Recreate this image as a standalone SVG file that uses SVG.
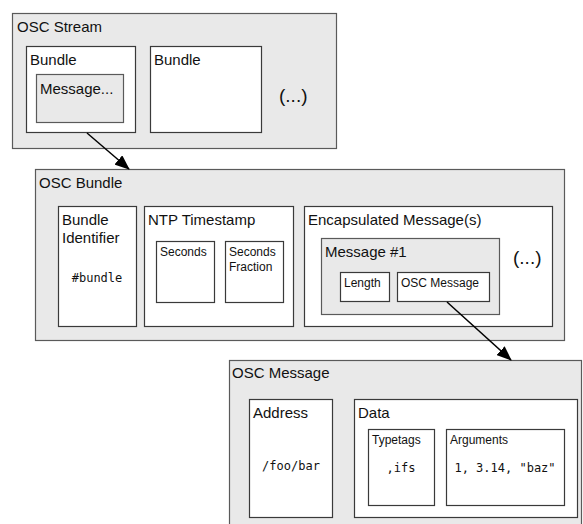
<svg xmlns="http://www.w3.org/2000/svg" width="583" height="524" viewBox="0 0 583 524">
<defs>
<style>
.g{fill:#e9e9e9;stroke:#5a5a5a;stroke-width:1.2}
.w{fill:#ffffff;stroke:#3a3a3a;stroke-width:1.2}
.t{font-family:"Liberation Sans",Arial,sans-serif;font-size:15px;fill:#111}
.s{font-family:"Liberation Sans",Arial,sans-serif;font-size:12px;fill:#111}
.e{font-family:"Liberation Sans",Arial,sans-serif;font-size:19px;fill:#111}
.m{font-family:"DejaVu Sans Mono",monospace;font-size:12px;fill:#111;text-anchor:middle}
.c{stroke:#000;stroke-width:1.5;fill:none}
</style>
<marker id="ah2" viewBox="0 0 15 12" refX="14" refY="6" markerWidth="15" markerHeight="12" orient="auto" markerUnits="userSpaceOnUse">
<path d="M0,0 L15,6 L0,12 z" fill="#000"/>
</marker>
</defs>

<g id="osc-stream">
<rect class="g" x="12.5" y="13.5" width="324" height="135"/>
<text class="t" x="17" y="32">OSC Stream</text>
</g>
<g id="stream-bundle-1">
<rect class="w" x="26.5" y="46.5" width="109" height="86"/>
<text class="t" x="30" y="65">Bundle</text>
</g>
<g id="stream-message">
<rect class="g" x="36.5" y="74.5" width="87" height="48"/>
<text class="t" x="40" y="94">Message...</text>
</g>
<g id="stream-bundle-2">
<rect class="w" x="150.5" y="46.5" width="111" height="86"/>
<text class="t" x="154" y="65">Bundle</text>
</g>
<g id="stream-more">
<text class="e" x="279" y="102">(...)</text>
</g>

<g id="osc-bundle">
<rect class="g" x="35.5" y="169.5" width="529" height="171"/>
<text class="t" x="39" y="188">OSC Bundle</text>
</g>
<g id="bundle-identifier">
<rect class="w" x="58.5" y="206.5" width="78" height="120"/>
<text class="t" x="62" y="225">Bundle</text>
<text class="t" x="62" y="243">Identifier</text>
<text class="m" x="97" y="282">#bundle</text>
</g>
<g id="ntp-timestamp">
<rect class="w" x="144.5" y="206.5" width="149" height="120"/>
<text class="t" x="148" y="225">NTP Timestamp</text>
</g>
<g id="seconds">
<rect class="w" x="156.5" y="241.5" width="58" height="61"/>
<text class="s" x="160" y="256">Seconds</text>
</g>
<g id="seconds-fraction">
<rect class="w" x="225.5" y="241.5" width="58" height="61"/>
<text class="s" x="229" y="256">Seconds</text>
<text class="s" x="229" y="271">Fraction</text>
</g>
<g id="encapsulated">
<rect class="w" x="304.5" y="206.5" width="248" height="120"/>
<text class="t" x="308" y="225">Encapsulated Message(s)</text>
</g>
<g id="message-1">
<rect class="g" x="321.5" y="238.5" width="178" height="76"/>
<text class="t" x="325" y="257">Message #1</text>
</g>
<g id="length">
<rect class="w" x="340.5" y="272.5" width="49" height="29"/>
<text class="s" x="344" y="287">Length</text>
</g>
<g id="osc-message-ref">
<rect class="w" x="397.5" y="272.5" width="92" height="29"/>
<text class="s" x="401" y="287">OSC Message</text>
</g>
<g id="bundle-more">
<text class="e" x="513" y="264">(...)</text>
</g>

<g id="osc-message">
<rect class="g" x="229.5" y="360.5" width="352" height="175"/>
<text class="t" x="232" y="378">OSC Message</text>
</g>
<g id="address">
<rect class="w" x="249.5" y="399.5" width="83" height="118"/>
<text class="t" x="253" y="418">Address</text>
<text class="m" x="291" y="470">/foo/bar</text>
</g>
<g id="data">
<rect class="w" x="354.5" y="399.5" width="223" height="118"/>
<text class="t" x="358" y="418">Data</text>
</g>
<g id="typetags">
<rect class="w" x="368.5" y="429.5" width="66" height="76"/>
<text class="s" x="372" y="444">Typetags</text>
<text class="m" x="401" y="472">,ifs</text>
</g>
<g id="arguments">
<rect class="w" x="446.5" y="429.5" width="118" height="76"/>
<text class="s" x="450" y="444">Arguments</text>
<text class="m" x="505" y="472">1, 3.14, "baz"</text>
</g>

<g id="connectors">
<line class="c" x1="87" y1="133" x2="129" y2="169" marker-end="url(#ah2)"/>
<line class="c" x1="447" y1="302" x2="511" y2="360" marker-end="url(#ah2)"/>
</g>
</svg>
